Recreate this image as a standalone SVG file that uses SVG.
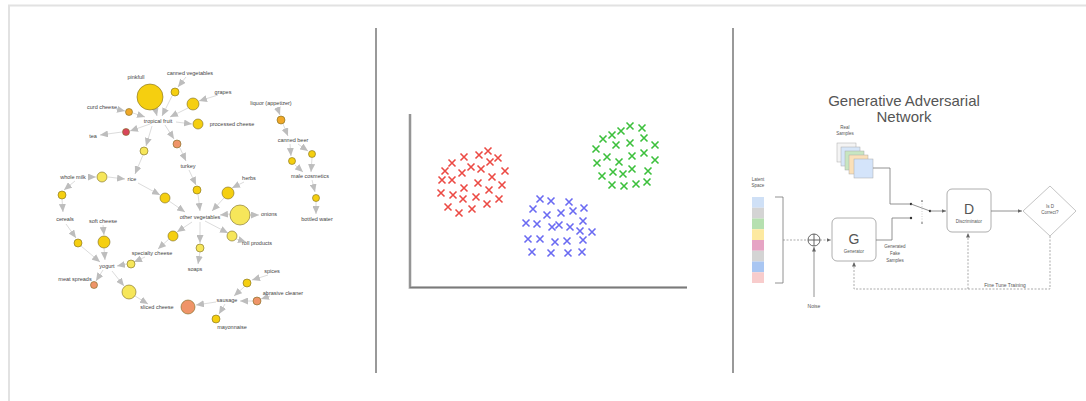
<svg xmlns="http://www.w3.org/2000/svg" width="1086" height="401" viewBox="0 0 1086 401">
<style>
.lbl{font-family:"Liberation Sans",Arial,sans-serif;font-size:5.5px;fill:#444;text-anchor:middle}
.e{stroke:#dcdcdc;stroke-width:1;fill:none;marker-end:url(#ah)}
.n{stroke:#7a6a20;stroke-width:0.6}
.gold{fill:#f5cf10}.pale{fill:#f6e65a}.org{fill:#f0a828}.sal{fill:#ef9468}.red{fill:#d8455a}
.xr{stroke:#ec4a44}.xg{stroke:#3cc03c}.xb{stroke:#6a6af2}
.gl{stroke:#777;stroke-width:0.8;fill:none}
.gd{stroke:#888;stroke-width:0.7;fill:none;stroke-dasharray:2 1.5}
.gt{font-family:"Liberation Sans",Arial,sans-serif;fill:#555;text-anchor:middle}
.box{fill:#fff;stroke:#999;stroke-width:0.8}
</style>
<defs>
<marker id="ah" markerUnits="userSpaceOnUse" markerWidth="9" markerHeight="7" refX="8" refY="3.5" orient="auto"><path d="M0,0 L8,3.5 L0,7 Z" fill="#bdbdbd"/></marker>
<marker id="ga" markerUnits="userSpaceOnUse" markerWidth="5" markerHeight="4" refX="4.5" refY="2" orient="auto"><path d="M0,0 L4.5,2 L0,4 Z" fill="#666"/></marker>
<path id="x" d="M-3.5,-3.5 L3.5,3.5 M-3.5,3.5 L3.5,-3.5" stroke-width="1.6" fill="none"/>
</defs>
<rect width="1086" height="401" fill="#fff"/>
<path d="M9,401 V5.5 H1086" stroke="#e2e2e2" stroke-width="2" fill="none"/>
<line x1="376" y1="28" x2="376" y2="373" stroke="#777" stroke-width="1.5"/>
<line x1="733" y1="28" x2="733" y2="373" stroke="#777" stroke-width="1.5"/>

<g id="connectors">
<line class="e" x1="155" y1="108" x2="157" y2="116"/>
<line class="e" x1="186" y1="77" x2="178" y2="87"/>
<line class="e" x1="172" y1="96" x2="162" y2="116"/>
<line class="e" x1="218" y1="95" x2="199" y2="101"/>
<line class="e" x1="188" y1="108" x2="170" y2="117"/>
<line class="e" x1="116" y1="109" x2="125" y2="111"/>
<line class="e" x1="133" y1="113" x2="145" y2="117"/>
<line class="e" x1="150" y1="124" x2="130" y2="131"/>
<line class="e" x1="122" y1="132" x2="100" y2="135"/>
<line class="e" x1="176" y1="122" x2="192" y2="124"/>
<line class="e" x1="165" y1="125" x2="174" y2="139"/>
<line class="e" x1="180" y1="148" x2="186" y2="161"/>
<line class="e" x1="152" y1="126" x2="146" y2="146"/>
<line class="e" x1="143" y1="155" x2="135" y2="174"/>
<line class="e" x1="108" y1="177" x2="125" y2="179"/>
<line class="e" x1="88" y1="177" x2="96" y2="177"/>
<line class="e" x1="75" y1="181" x2="64" y2="190"/>
<line class="e" x1="62" y1="199" x2="63" y2="212"/>
<line class="e" x1="66" y1="224" x2="76" y2="238"/>
<line class="e" x1="81" y1="246" x2="100" y2="262"/>
<line class="e" x1="103" y1="225" x2="104" y2="235"/>
<line class="e" x1="104" y1="248" x2="105" y2="260"/>
<line class="e" x1="138" y1="183" x2="160" y2="195"/>
<line class="e" x1="169" y1="201" x2="185" y2="212"/>
<line class="e" x1="189" y1="170" x2="196" y2="185"/>
<line class="e" x1="198" y1="194" x2="200" y2="211"/>
<line class="e" x1="244" y1="182" x2="232" y2="188"/>
<line class="e" x1="224" y1="198" x2="212" y2="211"/>
<line class="e" x1="230" y1="214" x2="220" y2="215"/>
<line class="e" x1="250" y1="215" x2="259" y2="215"/>
<line class="e" x1="205" y1="221" x2="228" y2="233"/>
<line class="e" x1="236" y1="239" x2="246" y2="242"/>
<line class="e" x1="200" y1="222" x2="200" y2="243"/>
<line class="e" x1="200" y1="252" x2="198" y2="264"/>
<line class="e" x1="192" y1="222" x2="177" y2="232"/>
<line class="e" x1="169" y1="239" x2="158" y2="249"/>
<line class="e" x1="145" y1="257" x2="134" y2="262"/>
<line class="e" x1="127" y1="264" x2="117" y2="266"/>
<line class="e" x1="103" y1="270" x2="96" y2="281"/>
<line class="e" x1="112" y1="271" x2="124" y2="286"/>
<line class="e" x1="135" y1="296" x2="148" y2="304"/>
<line class="e" x1="216" y1="302" x2="196" y2="305"/>
<line class="e" x1="268" y1="275" x2="252" y2="280"/>
<line class="e" x1="244" y1="287" x2="234" y2="296"/>
<line class="e" x1="253" y1="301" x2="240" y2="301"/>
<line class="e" x1="270" y1="296" x2="261" y2="299"/>
<line class="e" x1="225" y1="304" x2="219" y2="314"/>
<line class="e" x1="277" y1="107" x2="280" y2="115"/>
<line class="e" x1="283" y1="124" x2="288" y2="136"/>
<line class="e" x1="298" y1="144" x2="308" y2="151"/>
<line class="e" x1="312" y1="158" x2="311" y2="172"/>
<line class="e" x1="290" y1="144" x2="291" y2="156"/>
<line class="e" x1="295" y1="165" x2="303" y2="172"/>
<line class="e" x1="312" y1="180" x2="315" y2="192"/>
<line class="e" x1="316" y1="201" x2="316" y2="214"/>
</g>

<g id="graph-nodes">
<circle id="n1" class="n gold" cx="150" cy="97" r="13"/>
<circle id="n2" class="n gold" cx="175" cy="92" r="4"/>
<circle id="n3" class="n gold" cx="193" cy="104" r="6"/>
<circle id="n4" class="n org" cx="129" cy="112" r="3.5"/>
<circle id="n5" class="n gold" cx="198" cy="124" r="5"/>
<circle id="n6" class="n red" cx="126" cy="132" r="3.5"/>
<circle id="n7" class="n sal" cx="177" cy="144" r="4"/>
<circle id="n8" class="n pale" cx="144" cy="151" r="4"/>
<circle id="n9" class="n pale" cx="102" cy="177" r="5"/>
<circle id="n10" class="n gold" cx="62" cy="195" r="4"/>
<circle id="n11" class="n gold" cx="165" cy="198" r="5"/>
<circle id="n12" class="n gold" cx="197" cy="190" r="4"/>
<circle id="n13" class="n org" cx="281" cy="120" r="4"/>
<circle id="n14" class="n gold" cx="312" cy="154" r="3.5"/>
<circle id="n15" class="n gold" cx="292" cy="161" r="3.5"/>
<circle id="n16" class="n gold" cx="316" cy="198" r="3.5"/>
<circle id="n17" class="n gold" cx="228" cy="193" r="6"/>
<circle id="n18" class="n pale" cx="240" cy="215" r="10"/>
<circle id="n19" class="n pale" cx="232" cy="236" r="5"/>
<circle id="n20" class="n gold" cx="173" cy="236" r="5"/>
<circle id="n21" class="n gold" cx="78" cy="243" r="4"/>
<circle id="n22" class="n gold" cx="104" cy="242" r="6"/>
<circle id="n23" class="n pale" cx="200" cy="248" r="4"/>
<circle id="n24" class="n pale" cx="131" cy="264" r="4"/>
<circle id="n25" class="n sal" cx="94" cy="285" r="3.5"/>
<circle id="n26" class="n pale" cx="129" cy="292" r="7"/>
<circle id="n27" class="n sal" cx="188" cy="307" r="7"/>
<circle id="n28" class="n gold" cx="247" cy="283" r="4"/>
<circle id="n29" class="n sal" cx="257" cy="301" r="4"/>
<circle id="n30" class="n gold" cx="216" cy="319" r="4"/>
</g>

<g id="graph-labels">
<text class="lbl" x="136" y="79">pinkfull</text>
<text class="lbl" x="190" y="75">canned vegetables</text>
<text class="lbl" x="223" y="94">grapes</text>
<text class="lbl" x="102" y="109">curd cheese</text>
<text class="lbl" x="158" y="123">tropical fruit</text>
<text class="lbl" x="232" y="126">processed cheese</text>
<text class="lbl" x="271" y="105">liquor (appetizer)</text>
<text class="lbl" x="93" y="138">tea</text>
<text class="lbl" x="188" y="168">turkey</text>
<text class="lbl" x="293" y="142">canned beer</text>
<text class="lbl" x="73" y="179">whole milk</text>
<text class="lbl" x="132" y="181">rice</text>
<text class="lbl" x="310" y="178">male cosmetics</text>
<text class="lbl" x="249" y="180">herbs</text>
<text class="lbl" x="65" y="221">cereals</text>
<text class="lbl" x="103" y="223">soft cheese</text>
<text class="lbl" x="200" y="219">other vegetables</text>
<text class="lbl" x="269" y="216">onions</text>
<text class="lbl" x="317" y="221">bottled water</text>
<text class="lbl" x="257" y="245">roll products</text>
<text class="lbl" x="152" y="255">specialty cheese</text>
<text class="lbl" x="107" y="268">yogurt</text>
<text class="lbl" x="195" y="271">soaps</text>
<text class="lbl" x="272" y="273">spices</text>
<text class="lbl" x="75" y="281">meat spreads</text>
<text class="lbl" x="283" y="295">abrasive cleaner</text>
<text class="lbl" x="227" y="302">sausage</text>
<text class="lbl" x="157" y="309">sliced cheese</text>
<text class="lbl" x="232" y="329">mayonnaise</text>
</g>

<g id="scatter">
<path d="M410,114 V287.5 H687" stroke="#c8c8c8" stroke-width="3" fill="none"/>
<path d="M410,114 V287.5 H687" stroke="#7a7a7a" stroke-width="1.3" fill="none"/>
<g class="xr">
<use href="#x" x="488" y="151"/><use href="#x" x="479" y="155"/><use href="#x" x="498" y="158"/><use href="#x" x="464" y="157"/><use href="#x" x="452" y="163"/><use href="#x" x="490" y="162"/><use href="#x" x="471" y="167"/><use href="#x" x="481" y="169"/><use href="#x" x="445" y="171"/><use href="#x" x="462" y="173"/><use href="#x" x="505" y="171"/><use href="#x" x="442" y="180"/><use href="#x" x="452" y="180"/><use href="#x" x="492" y="177"/><use href="#x" x="478" y="183"/><use href="#x" x="502" y="185"/><use href="#x" x="464" y="188"/><use href="#x" x="489" y="190"/><use href="#x" x="441" y="193"/><use href="#x" x="453" y="195"/><use href="#x" x="476" y="197"/><use href="#x" x="463" y="199"/><use href="#x" x="499" y="199"/><use href="#x" x="487" y="204"/><use href="#x" x="448" y="207"/><use href="#x" x="472" y="209"/><use href="#x" x="459" y="213"/>
</g>
<g class="xg">
<use href="#x" x="630" y="126"/><use href="#x" x="642" y="128"/><use href="#x" x="621" y="131"/><use href="#x" x="612" y="135"/><use href="#x" x="644" y="138"/><use href="#x" x="603" y="139"/><use href="#x" x="630" y="143"/><use href="#x" x="616" y="145"/><use href="#x" x="655" y="145"/><use href="#x" x="596" y="149"/><use href="#x" x="644" y="153"/><use href="#x" x="632" y="156"/><use href="#x" x="607" y="157"/><use href="#x" x="619" y="162"/><use href="#x" x="597" y="163"/><use href="#x" x="655" y="160"/><use href="#x" x="632" y="169"/><use href="#x" x="648" y="171"/><use href="#x" x="613" y="172"/><use href="#x" x="623" y="174"/><use href="#x" x="602" y="176"/><use href="#x" x="612" y="185"/><use href="#x" x="624" y="186"/><use href="#x" x="636" y="184"/><use href="#x" x="647" y="182"/>
</g>
<g class="xb">
<use href="#x" x="540" y="199"/><use href="#x" x="551" y="201"/><use href="#x" x="569" y="202"/><use href="#x" x="533" y="209"/><use href="#x" x="584" y="208"/><use href="#x" x="561" y="213"/><use href="#x" x="573" y="211"/><use href="#x" x="547" y="215"/><use href="#x" x="583" y="221"/><use href="#x" x="526" y="223"/><use href="#x" x="537" y="224"/><use href="#x" x="552" y="227"/><use href="#x" x="559" y="225"/><use href="#x" x="570" y="227"/><use href="#x" x="580" y="231"/><use href="#x" x="592" y="232"/><use href="#x" x="528" y="239"/><use href="#x" x="540" y="239"/><use href="#x" x="555" y="242"/><use href="#x" x="567" y="241"/><use href="#x" x="583" y="240"/><use href="#x" x="532" y="252"/><use href="#x" x="551" y="253"/><use href="#x" x="568" y="253"/><use href="#x" x="582" y="252"/>
</g>
</g>

<g id="gan-title">
<text class="gt" x="904" y="106" font-size="15">Generative Adversarial</text>
<text class="gt" x="904" y="122" font-size="15">Network</text>
</g>

<g id="real-samples">
<text class="gt" x="845" y="129" font-size="4.5">Real</text>
<text class="gt" x="845" y="135" font-size="4.5">Samples</text>
<rect x="837" y="143" width="19" height="19" fill="#f4f4f4" stroke="#aaa" stroke-width="0.5"/>
<rect x="841" y="147" width="19" height="19" fill="#d6e6f8" stroke="#aaa" stroke-width="0.5"/>
<rect x="845" y="151" width="19" height="19" fill="#c8e6c0" stroke="#aaa" stroke-width="0.5"/>
<rect x="849" y="155" width="19" height="19" fill="#fbe0b8" stroke="#aaa" stroke-width="0.5"/>
<rect x="854" y="159" width="19" height="19" fill="#d4e4fa" stroke="#aaa" stroke-width="0.5"/>
</g>

<g id="latent-space">
<text class="gt" x="758" y="181" font-size="4.5">Latent</text>
<text class="gt" x="758" y="187" font-size="4.5">Space</text>
<rect x="752" y="197" width="12" height="10.75" fill="#cfe0f6"/>
<rect x="752" y="207.75" width="12" height="10.75" fill="#d4d4d4"/>
<rect x="752" y="218.5" width="12" height="10.75" fill="#b6e0b0"/>
<rect x="752" y="229.25" width="12" height="10.75" fill="#fde9a0"/>
<rect x="752" y="240" width="12" height="10.75" fill="#e6a4c4"/>
<rect x="752" y="250.75" width="12" height="10.75" fill="#d4d4d4"/>
<rect x="752" y="261.5" width="12" height="10.75" fill="#a9c6f2"/>
<rect x="752" y="272.25" width="12" height="10.75" fill="#f8cccc"/>
<path class="gl" d="M775,197 H783 V283 H775" stroke-width="1"/>
</g>

<g id="sum-node">
<circle cx="814" cy="240" r="6" fill="#fff" stroke="#555" stroke-width="0.9"/>
<path d="M808,240 H820 M814,234 V246" stroke="#555" stroke-width="0.9"/>
<text class="gt" x="814" y="308" font-size="5">Noise</text>
</g>

<g id="generator">
<rect class="box" x="832" y="218" width="44" height="43" rx="5"/>
<text class="gt" x="854" y="244" font-size="14">G</text>
<text class="gt" x="854" y="253" font-size="4.5">Generator</text>
<text class="gt" x="895" y="248" font-size="4.5">Generated</text>
<text class="gt" x="895" y="255" font-size="4.5">Fake</text>
<text class="gt" x="895" y="262" font-size="4.5">Samples</text>
</g>

<g id="discriminator">
<rect class="box" x="947" y="189" width="44" height="43" rx="5"/>
<text class="gt" x="969" y="214" font-size="14">D</text>
<text class="gt" x="969" y="223" font-size="4.5">Discriminator</text>
</g>

<g id="decision">
<path d="M1023,211 L1050,186 L1076,211 L1050,236 Z" fill="#fff" stroke="#aaa" stroke-width="0.7"/>
<text class="gt" x="1050" y="208" font-size="4.5">Is D</text>
<text class="gt" x="1050" y="214" font-size="4.5">Correct?</text>
</g>

<g id="gan-connectors">
<path class="gd" d="M783,240 H807"/>
<path class="gd" d="M820,240 H831" marker-end="url(#ga)"/>
<path class="gl" d="M814,297 V247" marker-end="url(#ga)"/>
<path class="gl" d="M873,168 H890 V204 H911"/>
<path class="gl" d="M876,240 H892 V218 H911"/>
<circle cx="911" cy="204" r="1.2" fill="#333"/>
<circle cx="911" cy="218" r="1.2" fill="#333"/>
<path d="M922,201 V223" stroke="#999" stroke-width="0.5" stroke-dasharray="1 1.5"/>
<circle cx="922" cy="201" r="0.7" fill="#333"/>
<circle cx="922" cy="223" r="0.7" fill="#333"/>
<path class="gl" d="M911,204 L930,211"/>
<circle cx="930" cy="211" r="1.2" fill="#333"/>
<path class="gl" d="M930,211 H946" marker-end="url(#ga)"/>
<path class="gl" d="M991,211 H1022" marker-end="url(#ga)"/>
<path class="gd" d="M1050,236 V289 H854 V262" marker-end="url(#ga)"/>
<path class="gd" d="M968,289 V233" marker-end="url(#ga)"/>
<text class="gt" x="1005" y="287" font-size="5">Fine Tune Training</text>
</g>
</svg>
